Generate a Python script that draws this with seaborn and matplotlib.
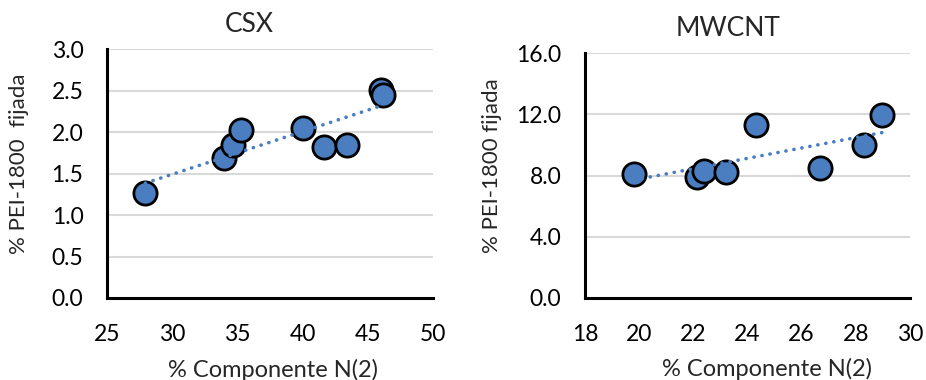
import numpy as np
import pandas as pd
import matplotlib
matplotlib.use("Agg")
import matplotlib.pyplot as plt
import seaborn as sns

sns.set_style("white")
plt.rcParams['font.family'] = ['Lato', 'DejaVu Sans']

# CSX data
csx_x = [27.93, 33.98, 34.69, 35.26, 40.05, 41.63, 43.37, 46.05, 46.17]
csx_y = [1.27, 1.69, 1.84, 2.02, 2.05, 1.82, 1.85, 2.51, 2.45]

# MWCNT data
mw_x = [19.82, 22.13, 22.40, 23.22, 24.32, 26.66, 28.32, 28.97]
mw_y = [8.10, 7.93, 8.28, 8.23, 11.33, 8.47, 9.96, 11.97]

csx_xticks = [25, 30, 35, 40, 45, 50]
csx_yticks = [0.0, 0.5, 1.0, 1.5, 2.0, 2.5, 3.0]
mw_xticks = [18, 20, 22, 24, 26, 28, 30]
mw_yticks = [0.0, 4.0, 8.0, 12.0, 16.0]

FILL = '#4A7EC1'
LINE = '#4A7EC1'
GRID = '#D9D9D9'


def panel(ax, x, y, xticks, yticks, title, ylabel, title_x, ylab_x, xlab_x):
    df = pd.DataFrame({'x': x, 'y': y})
    for yt in yticks[1:]:
        ax.axhline(yt, color=GRID, lw=1.5, zorder=0)
    sns.scatterplot(data=df, x='x', y='y', ax=ax, s=280, color=FILL,
                    edgecolor='black', linewidth=2.0, zorder=3, legend=False)
    sns.regplot(data=df, x='x', y='y', ax=ax, scatter=False, ci=None,
                line_kws=dict(color=LINE, lw=2.6, ls=(0, (0.05, 2.2)),
                              dash_capstyle='round', zorder=4))
    ax.set_xlim(xticks[0], xticks[-1])
    ax.set_ylim(yticks[0], yticks[-1])
    ax.set_xticks(xticks)
    ax.set_yticks(yticks)
    ax.set_xticklabels([str(t) for t in xticks])
    ax.set_yticklabels([f'{t:.1f}' for t in yticks])
    for s in ['top', 'right']:
        ax.spines[s].set_visible(False)
    for s in ['left', 'bottom']:
        ax.spines[s].set_color('black')
        ax.spines[s].set_linewidth(2.2)
    ax.tick_params(axis='x', direction='in', length=6, width=2.0,
                   pad=19, labelsize=16.5, colors='black')
    ax.tick_params(axis='y', length=0, pad=17, labelsize=16.5, colors='black')
    ax.set_title(title, fontsize=19, x=title_x, pad=12)
    ax.set_xlabel('% Componente N(2)', fontsize=17)
    ax.set_ylabel(ylabel, fontsize=16)
    ax.xaxis.set_label_coords(xlab_x, -0.245)
    ax.yaxis.set_label_coords(ylab_x, 0.54)


fig = plt.figure(figsize=(9.26, 3.8), dpi=100)
ax1 = fig.add_axes([0.1156, 0.2158, 0.352, 0.655])
ax2 = fig.add_axes([0.6317, 0.2158, 0.351, 0.6447])

panel(ax1, csx_x, csx_y, csx_xticks, csx_yticks, 'CSX',
      '% PEI-1800  fijada', 0.435, -0.24, 0.508)
panel(ax2, mw_x, mw_y, mw_xticks, mw_yticks, 'MWCNT',
      '% PEI-1800 fijada', 0.441, -0.255, 0.56)

fig.savefig('out.png', dpi=100)
